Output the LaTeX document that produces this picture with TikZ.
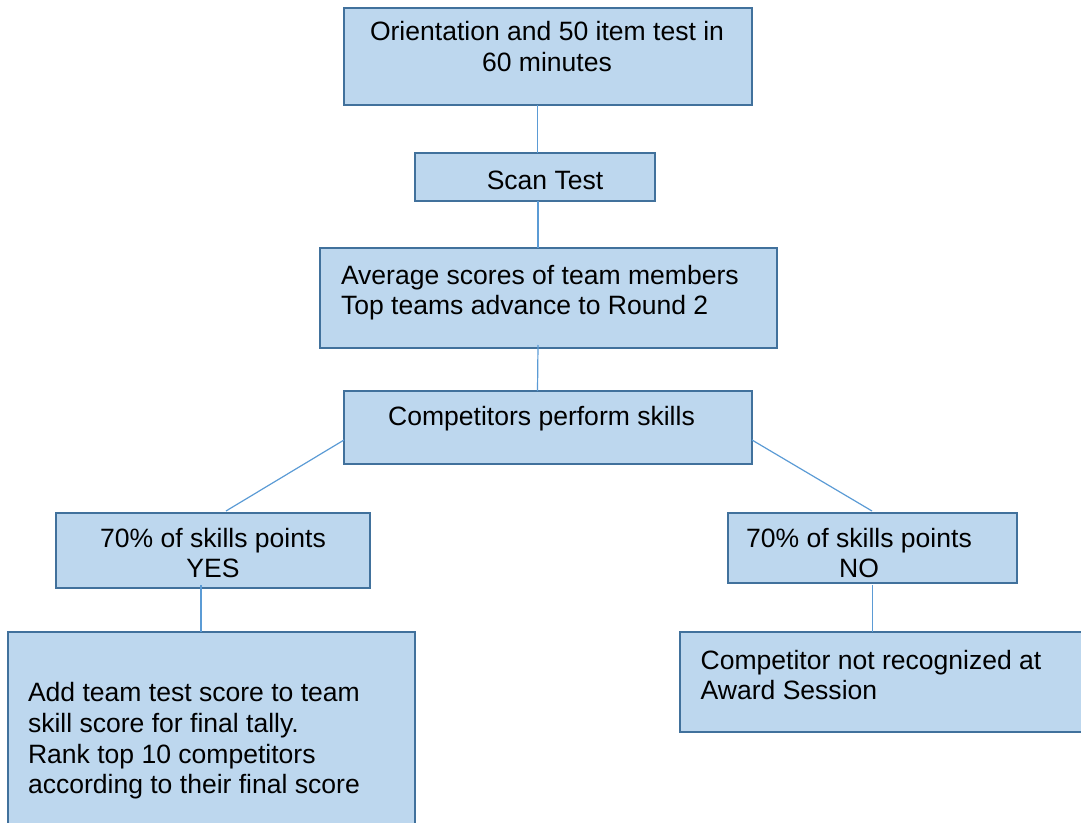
\documentclass[tikz,border=0pt]{standalone}
\usepackage{fontspec}
\setmainfont{Liberation Sans}
\usetikzlibrary{calc}
\definecolor{boxfill}{HTML}{BDD7EE}
\definecolor{boxline}{HTML}{41719C}
\definecolor{linkline}{HTML}{5B9BD5}
\begin{document}
\begin{tikzpicture}[x=0.75pt,y=-0.75pt,
 box/.style={draw=boxline, fill=boxfill, line width=1.8pt, inner sep=0pt, outer sep=0pt, anchor=north west},
 txt/.style={inner sep=0pt, outer sep=0pt, font=\fontsize{19.9}{23}\selectfont, text=black},
 link/.style={draw=linkline, line width=0.9pt}]
\clip (0,0) rectangle (1081,823);
% boxes
\node[box, minimum width=306pt, minimum height=72.75pt] (o) at (344,8) {};
\node[box, minimum width=180pt, minimum height=36pt] (s) at (415,153) {};
\node[box, minimum width=342.75pt, minimum height=75pt] (a) at (320,248) {};
\node[box, minimum width=306pt, minimum height=54.75pt] (c) at (344,391) {};
\node[box, minimum width=235.5pt, minimum height=56.25pt] (y) at (56,513) {};
\node[box, minimum width=305.25pt, minimum height=160pt] (r) at (8,632) {};
\node[box, minimum width=216.75pt, minimum height=52.5pt] (n) at (728,513) {};
\node[box, minimum width=320pt, minimum height=75pt] (x) at (680,632) {};
% texts
\node[txt, anchor=north, align=center] (t1) at (547,21.5) {Orientation and 50 item test in\\60 minutes};
\node[txt, anchor=north] (t2) at (545,171) {Scan Test};
\node[txt, anchor=north west, align=left] (t3) at (341,265) {Average scores of team members\\Top teams advance to Round 2};
\node[txt, anchor=north] (t4) at (541.5,406.7) {Competitors perform skills};
\node[txt, anchor=north, align=center] (t5) at (213,528) {70\% of skills points\\YES};
\node[txt, anchor=north west, align=left] (t6) at (28,682.7) {Add team test score to team\\skill score for final tally.\\Rank top 10 competitors\\according to their final score};
\node[txt, anchor=north, align=center] (t7) at (859,528) {70\% of skills points\\NO};
\node[txt, anchor=north west, align=left] (t8) at (700.7,650) {Competitor not recognized at\\Award Session};
% connectors
\draw[link] ($(o.south)+(-10.5,0)$) -- ($(s.north)+(2.5,0)$);
\draw[link] ($(s.south)+(3,0)$) -- ($(a.north)+(-10.5,0)$);
\draw[link] ($(a.south)+(-10.5,-3)$) -- ($(c.north)+(-10.5,0)$);
\draw[link] ($(c.west)+(0,12.5)$) -- ($(y.north)+(13,-2)$);
\draw[link] ($(c.east)+(0,12.5)$) -- ($(n.north)+(-0.5,-2)$);
\draw[link] ($(y.south)+(-12,-3)$) -- ($(r.north)+(-10.5,0)$);
\draw[link] ($(n.south)+(0,2)$) -- ($(x.north west)+(192.5,0)$);
\end{tikzpicture}
\end{document}
